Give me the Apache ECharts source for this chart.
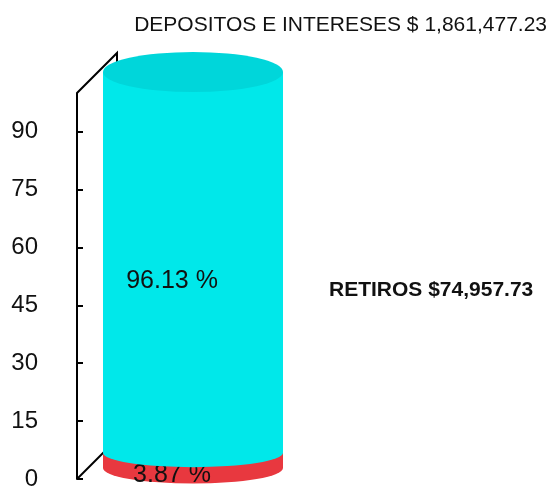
<!DOCTYPE html>
<html>
<head>
<meta charset="utf-8">
<script src="https://cdn.jsdelivr.net/npm/echarts@6/dist/echarts.min.js"></script>
<style>
  html, body { margin: 0; padding: 0; background: #fff; }
  #chart { width: 548px; height: 491px; }
</style>
</head>
<body>
<div id="chart"></div>
<script>
  // datos
  var categorias = ['']
  var depositosPct = [96.13]
  var retirosPct = [3.87]
  var ticksY = [0, 15, 30, 45, 60, 75, 90]
  var tituloDepositos = 'DEPOSITOS E INTERESES $ 1,861,477.23'
  var tituloRetiros = 'RETIROS $74,957.73'

  var cian = '#00e8ea'
  var cianTapa = '#00d6da'
  var rojo = '#e8383f'
  var fuente = 'Liberation Sans, Arial, sans-serif'
  var anchoCil = 180

  var chart = echarts.init(document.getElementById('chart'))

  var options = {
    animation: false,
    title: [{
      text: tituloDepositos,
      right: -4,
      top: 10,
      textStyle: { fontFamily: fuente, fontSize: 21, fontWeight: 'normal', color: '#111' }
    }, {
      text: tituloRetiros,
      left: 324,
      top: 275,
      textStyle: { fontFamily: fuente, fontSize: 21, fontWeight: 'bold', color: '#111' }
    }],
    grid: [
      // eje visible (frente)
      { left: 77, top: 93, bottom: 8, width: 220 },
      // cilindro (desplazado por la profundidad)
      { left: 103, top: 72, bottom: 23, width: anchoCil }
    ],
    xAxis: [
      { gridIndex: 0, type: 'category', data: categorias, show: false },
      { gridIndex: 1, type: 'category', data: categorias, show: false }
    ],
    yAxis: [{
      gridIndex: 0,
      type: 'value',
      min: 0,
      max: 100,
      interval: 15,
      splitLine: { show: false },
      axisLine: { show: true, lineStyle: { color: '#000', width: 2 } },
      axisTick: { show: true, inside: true, length: 6, customValues: ticksY, lineStyle: { color: '#000', width: 2 } },
      axisLabel: { customValues: ticksY, margin: 39, fontFamily: fuente, fontSize: 24, color: '#111' }
    }, {
      gridIndex: 1,
      type: 'value',
      min: 0,
      max: 100,
      show: false
    }],
    series: [{
      name: 'retiros',
      type: 'bar',
      xAxisIndex: 1, yAxisIndex: 1,
      stack: 'cil',
      barWidth: anchoCil,
      data: retirosPct,
      itemStyle: { color: rojo },
      z: 2,
      label: {
        show: true, position: 'inside', offset: [-21, 15],
        formatter: '{c} %', fontFamily: fuente, fontSize: 25, color: '#111'
      }
    }, {
      name: 'depositos',
      type: 'bar',
      xAxisIndex: 1, yAxisIndex: 1,
      stack: 'cil',
      barWidth: anchoCil,
      data: depositosPct,
      itemStyle: { color: cian },
      z: 2,
      label: {
        show: true, position: 'inside', offset: [-21, 19],
        formatter: '{c} %', fontFamily: fuente, fontSize: 25, color: '#111'
      }
    }, {
      // base roja
      type: 'pictorialBar',
      xAxisIndex: 1, yAxisIndex: 1,
      symbol: 'circle',
      symbolSize: [anchoCil, 31],
      symbolPosition: 'start',
      symbolOffset: [0, '50%'],
      barGap: '-100%',
      data: retirosPct,
      itemStyle: { color: rojo },
      z: 1
    }, {
      // union cian sobre rojo
      type: 'pictorialBar',
      xAxisIndex: 1, yAxisIndex: 1,
      symbol: 'circle',
      symbolSize: [anchoCil, 29],
      symbolPosition: 'end',
      symbolOffset: [0, '-50%'],
      barGap: '-100%',
      data: retirosPct,
      itemStyle: { color: cian },
      z: 3
    }, {
      // tapa
      type: 'pictorialBar',
      xAxisIndex: 1, yAxisIndex: 1,
      symbol: 'circle',
      symbolSize: [anchoCil, 40],
      symbolPosition: 'end',
      symbolOffset: [0, '-50%'],
      barGap: '-100%',
      data: depositosPct.map(function (v, i) { return v + retirosPct[i] }),
      itemStyle: { color: cianTapa },
      z: 4
    }]
  }

  chart.setOption(options)

  // lineas de perspectiva del eje
  var x0 = 77
  var yTop = chart.convertToPixel({ yAxisIndex: 0 }, 100)
  var yCero = chart.convertToPixel({ yAxisIndex: 0 }, 0)
  var prof = 40
  chart.setOption({
    graphic: [{
      type: 'polyline',
      shape: { points: [[x0, yTop], [x0 + prof, yTop - prof], [x0 + prof, yTop - prof + 13]] },
      style: { stroke: '#000', lineWidth: 2, fill: null },
      z: 0
    }, {
      type: 'line',
      shape: { x1: x0, y1: yCero, x2: x0 + prof, y2: yCero - prof },
      style: { stroke: '#000', lineWidth: 2 },
      z: 0
    }]
  })

  window.addEventListener('resize', function () { chart.resize() })
</script>
</body>
</html>
